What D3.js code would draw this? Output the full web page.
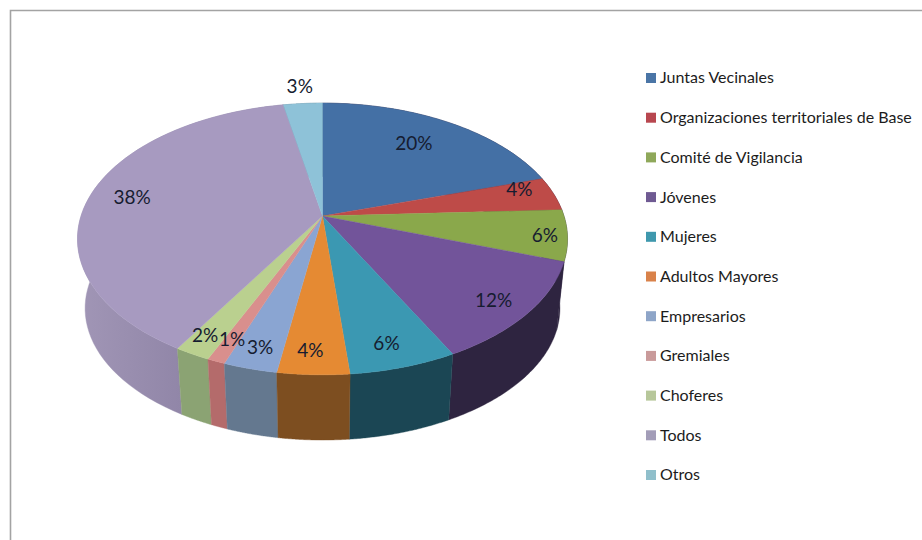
<!DOCTYPE html>
<html>
<head>
<meta charset="utf-8">
<script src="https://cdn.jsdelivr.net/npm/d3@7/dist/d3.min.js"></script>
<style>
html,body{margin:0;padding:0;background:#fff;overflow:hidden}
svg{display:block}
text{font-family:Lato,"Open Sans",sans-serif}
</style>
</head>
<body>
<svg id="chart" width="922" height="540"></svg>
<script>
// Participation by social group
const categories = ["Juntas Vecinales","Organizaciones territoriales de Base","Comité de Vigilancia","Jóvenes","Mujeres","Adultos Mayores","Empresarios","Gremiales","Choferes","Todos","Otros"];
const values = [20,4,6,12,6,4,3,1,2,38,3];

const topColors = ["#4470a5","#be4b48","#8aa84b","#72549a","#3b98b2","#e58a33","#8aa5d2","#d98f8d","#bad08f","#a79ac0","#8ec2d8"];
const sideColors = ["#2e2440","#2e2440","#2e2440","#2e2440","#1b4654","#7d4e20","#64788f","#b46b6b","#8ba373","url(#todosSide)","#5f8190"];
const legendColors = ["#4a75a6","#b8474f","#8fa85a","#6f5a92","#3f98ad","#d9824a","#8ea5c8","#c99a9a","#b7c79a","#a39db8","#90bfcb"];

// Per-label placement: radial fraction and angular nudge in degrees
const labelRadius = [.74,.87,.91,.86,.86,.87,.88,.87,.89,.82,1.19];
const labelNudge = [-2,-4,1,1,1,1,0,0,1,0,0];

const svg = d3.select("#chart");

// Page frame along the top and left edges
svg.append("path").attr("d","M10.5 540V10.5H922").attr("fill","none").attr("stroke","#a3a3a3").attr("stroke-width",1.6);

const defs = svg.append("defs");
const grad = defs.append("linearGradient").attr("id","todosSide");
grad.append("stop").attr("offset","0%").attr("stop-color","#a196b6");
grad.append("stop").attr("offset","100%").attr("stop-color","#81769a");

// Tilted disc: a circle in the plane mapped through a perspective divide
const tilt = 0.169;
const cx = 322.5;
const topFace = {y0:216, rx:241.5, ry:132};
const bottomFace = {y0:286, rx:234, ry:128};

function project(face, angle, r){
  const u = r*Math.sin(angle), v = -r*Math.cos(angle), w = 1 - tilt*v;
  return [cx + face.rx*u/w, face.y0 + face.ry*v/w];
}
const rimAngles = (a0,a1) => d3.range(0,61).map(i => a0 + (a1-a0)*i/60);
const outline = d3.line();

const arcs = d3.pie().sort(null)(values);

// Walls first, rearmost to frontmost, then the top face hides what lies behind it
const wallOrder = d3.range(arcs.length).sort((a,b) =>
  d3.ascending(-Math.cos((arcs[a].startAngle+arcs[a].endAngle)/2), -Math.cos((arcs[b].startAngle+arcs[b].endAngle)/2)));

svg.append("g").selectAll("path").data(wallOrder).join("path")
  .attr("d", i => {
    const as = rimAngles(arcs[i].startAngle, arcs[i].endAngle);
    const pts = as.map(a => project(topFace,a,1)).concat(as.slice().reverse().map(a => project(bottomFace,a,1)));
    return outline(pts) + "Z";
  })
  .attr("fill", i => sideColors[i])
  .attr("stroke", i => sideColors[i]).attr("stroke-width",.4);

svg.append("g").selectAll("path").data(arcs).join("path")
  .attr("d", d => {
    const pts = [[cx,topFace.y0]].concat(rimAngles(d.startAngle,d.endAngle).map(a => project(topFace,a,1)));
    return outline(pts) + "Z";
  })
  .attr("fill", (d,i) => topColors[i])
  .attr("stroke", (d,i) => topColors[i]).attr("stroke-width",.4);

// Percent labels
svg.append("g").selectAll("text").data(arcs).join("text")
  .attr("transform", (d,i) => {
    const mid = (d.startAngle+d.endAngle)/2 + labelNudge[i]*Math.PI/180;
    const p = project(topFace, mid, labelRadius[i]);
    return `translate(${p[0]},${p[1]})`;
  })
  .attr("text-anchor","middle").attr("dy","0.36em")
  .attr("font-size",19).attr("fill","#161c30")
  .text((d,i) => values[i] + "%");

// Legend column
const legendY = d3.scalePoint().domain(categories).range([78,475]);
const legend = svg.append("g").selectAll("g").data(categories).join("g")
  .attr("transform", d => `translate(646,${legendY(d)})`);
legend.append("rect").attr("x",0).attr("y",-5).attr("width",10).attr("height",10)
  .attr("fill",(d,i) => legendColors[i]);
legend.append("text").attr("x",14).attr("dy","0.34em")
  .attr("font-size",16).attr("fill","#1c1c1c").text(d => d);
</script>
</body>
</html>
